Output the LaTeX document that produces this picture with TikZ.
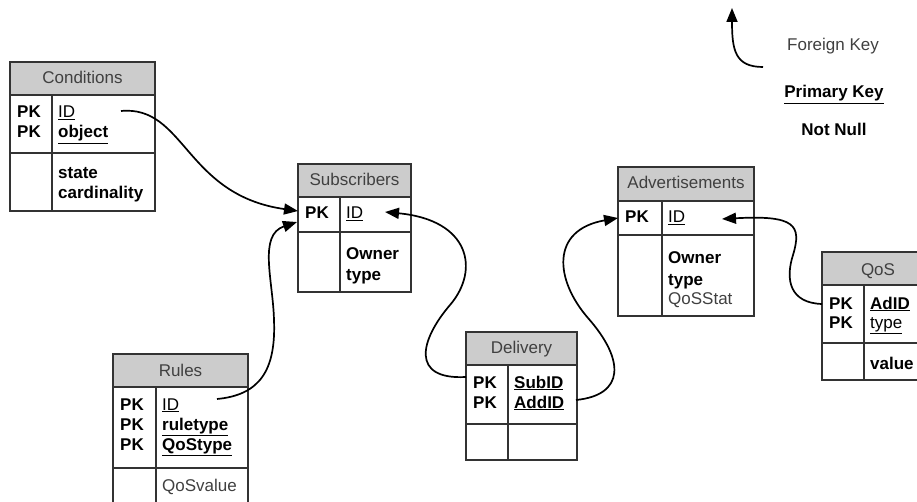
\documentclass[tikz,border=0pt]{standalone}
\usepackage{fontspec}
\setmainfont{Liberation Sans}
\usetikzlibrary{arrows.meta}
\definecolor{hdr}{HTML}{CCCCCC}
\definecolor{bord}{HTML}{333333}
\definecolor{gtxt}{HTML}{404040}
\newcommand\drawtable[7]{%
  \fill[hdr] (#1,#4) rectangle (#3,#5);
  \draw[tbl] (#1,#4) rectangle (#3,#7);
  \draw[tbl] (#1,#5) -- (#3,#5) (#1,#6) -- (#3,#6) (#2,#5) -- (#2,#7);
}
\begin{document}
\begin{tikzpicture}[x=1pt,y=-1pt,
  tbl/.style={draw=bord,line width=1.1pt},
  base/.style={inner sep=0pt,font=\fontsize{17}{20}\selectfont},
  hd/.style={base,anchor=base,text=gtxt},
  pk/.style={base,anchor=base west,font=\fontsize{17}{20}\selectfont\bfseries},
  bd/.style={base,anchor=base west,font=\fontsize{17}{20}\selectfont\bfseries},
  rg/.style={base,anchor=base west},
  gr/.style={base,anchor=base west,text=gtxt},
  fk/.style={line width=1.7pt,-{Triangle[length=14pt,width=11pt]}}]
\useasboundingbox (0,0) rectangle (917,502);
\clip (0,0) rectangle (917,502);

% Conditions
\drawtable{10}{52}{155}{62}{95}{153}{211}
\node[hd] (condT) at (82.5,84) {Conditions};
\node[pk] (condPK1) at (17,118) {PK};
\node[pk] (condPK2) at (17,138) {PK};
\node[rg] (condID) at (58,118) {\underline{ID}};
\node[bd] (condObj) at (58,138) {\underline{object}};
\node[bd] (condState) at (58,179) {state};
\node[bd] (condCard) at (58,199) {cardinality};

% Subscribers
\drawtable{298}{340}{411}{164}{197}{232}{292}
\node[hd] (subT) at (354.5,186) {Subscribers};
\node[pk] (subPK) at (305,219) {PK};
\node[rg] (subID) at (346,219) {\underline{ID}};
\node[bd] (subOwner) at (346,260) {Owner};
\node[bd] (subType) at (346,280) {type};

% Advertisements
\drawtable{618}{662}{754}{167}{201}{235}{316}
\node[hd] (adT) at (686,189) {Advertisements};
\node[pk] (adPK) at (625,223) {PK};
\node[rg] (adID) at (668,223) {\underline{ID}};
\node[bd] (adOwner) at (668,264) {Owner};
\node[bd] (adType) at (668,285) {type};
\node[gr] (adStat) at (668,304) {QoSStat};

% QoS
\drawtable{822}{864}{934}{252}{285}{343}{380}
\node[hd] (qosT) at (878,276) {QoS};
\node[pk] (qosPK1) at (829,309) {PK};
\node[pk] (qosPK2) at (829,328) {PK};
\node[bd] (qosAd) at (870,309) {\underline{AdID}};
\node[rg] (qosType) at (870,328) {\underline{type}};
\node[bd] (qosVal) at (870,369) {value};

% Rules
\drawtable{113}{156}{248}{354}{387}{468}{506}
\node[hd] (ruT) at (180.5,376) {Rules};
\node[pk] (ruPK1) at (120,410) {PK};
\node[pk] (ruPK2) at (120,430) {PK};
\node[pk] (ruPK3) at (120,450) {PK};
\node[rg] (ruID) at (162,410) {\underline{ID}};
\node[bd] (ruRt) at (162,430) {\underline{ruletype}};
\node[bd] (ruQt) at (162,450) {\underline{QoStype}};
\node[gr] (ruQv) at (162,491) {QoSvalue};

% Delivery
\drawtable{466}{508}{577}{332}{365}{424}{460}
\node[hd] (deT) at (521.5,353) {Delivery};
\node[pk] (dePK1) at (473,388) {PK};
\node[pk] (dePK2) at (473,408) {PK};
\node[bd] (deSub) at (514,388) {\underline{SubID}};
\node[bd] (deAdd) at (514,408) {\underline{AddID}};

% connector ends
\coordinate (c1s) at (121,111);
\coordinate (c1e) at (298,211);
\coordinate (c2s) at (217,399);
\coordinate (c2e) at (297,222);
\coordinate (c3s) at (466,377);
\coordinate (c3e) at (385,212);
\coordinate (c4s) at (576,400);
\coordinate (c4e) at (618,218);
\coordinate (c5s) at (822,304);
\coordinate (c5e) at (722,219);
\coordinate (lgs) at (763,67);
\coordinate (lge) at (732,8);

\draw[fk] (c1s) .. controls (185,105) and (185,195) .. (c1e);
\draw[fk] (c2s) .. controls (260,395) and (276,370) .. (274,320)
             .. controls (273,280) and (258,235) .. (c2e);
\draw[fk] (c3s) .. controls (410,380) and (420,340) .. (450,305)
             .. controls (480,270) and (470,220) .. (c3e);
\draw[fk] (c4s) .. controls (625,395) and (625,360) .. (588,318)
             .. controls (555,280) and (550,230) .. (c4e);
\draw[fk] (c5s) .. controls (790,303) and (785,280) .. (793,255)
             .. controls (802,225) and (795,215) .. (c5e);
\draw[fk] (lgs) .. controls (735,67) and (732,50) .. (lge);

% legend
\node[hd] (lgFK) at (833,51) {Foreign Key};
\node[base,anchor=base,font=\fontsize{17}{20}\selectfont\bfseries] (lgPK) at (834,98) {\underline{Primary Key}};
\node[base,anchor=base,font=\fontsize{17}{20}\selectfont\bfseries] (lgNN) at (834,136) {Not Null};
\end{tikzpicture}
\end{document}
